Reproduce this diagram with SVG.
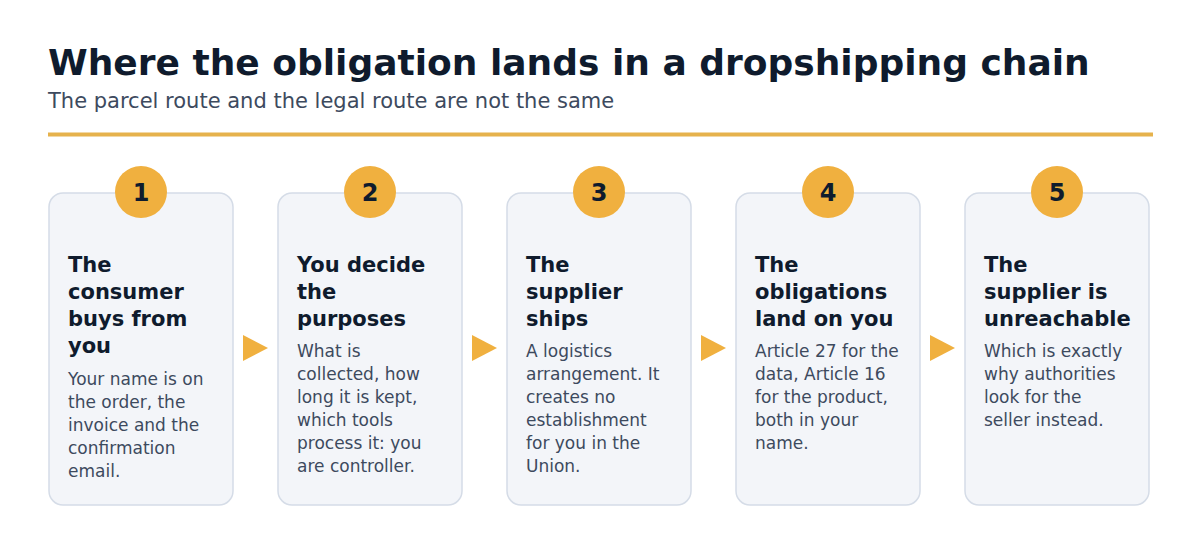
<svg xmlns="http://www.w3.org/2000/svg" width="1200" height="545" viewBox="0 0 1200 545">
<style>
.title{font-family:"DejaVu Sans",sans-serif;font-weight:bold;font-size:36px;fill:#0f1b2d}
.sub{font-family:"DejaVu Sans",sans-serif;font-size:21px;fill:#3d4a5e}
.card{fill:#f3f5f9;stroke:#d5dce7;stroke-width:1.5}
.badge{fill:#f0b03f}
.num{font-family:"DejaVu Sans",sans-serif;font-weight:bold;font-size:24px;fill:#0f1b2d;text-anchor:middle}
.head{font-family:"DejaVu Sans",sans-serif;font-weight:bold;font-size:21px;fill:#0f1b2d}
.body{font-family:"DejaVu Sans",sans-serif;font-size:17px;fill:#3d4a5e}
.arrow{fill:#f0b03f}
</style>
<rect width="1200" height="545" fill="#ffffff"/>
<text class="title" x="48" y="75">Where the obligation lands in a dropshipping chain</text>
<text class="sub" x="48" y="108">The parcel route and the legal route are not the same</text>
<rect x="48" y="132.5" width="1105" height="4" fill="#e6b24c"/>
<g id="connectors">
<polygon class="arrow" points="243,335 268,348 243,361"/>
<polygon class="arrow" points="472,335 497,348 472,361"/>
<polygon class="arrow" points="701,335 726,348 701,361"/>
<polygon class="arrow" points="930,335 955,348 930,361"/>
</g>
<g id="node1">
<rect class="card" x="49" y="193" width="184" height="312" rx="14"/>
<circle class="badge" cx="141" cy="192" r="26"/>
<text class="num" x="141" y="201">1</text>
<text class="head" x="68" y="272">The</text>
<text class="head" x="68" y="299">consumer</text>
<text class="head" x="68" y="326">buys from</text>
<text class="head" x="68" y="353">you</text>
<text class="body" x="68" y="385">Your name is on</text>
<text class="body" x="68" y="408">the order, the</text>
<text class="body" x="68" y="431">invoice and the</text>
<text class="body" x="68" y="454">confirmation</text>
<text class="body" x="68" y="477">email.</text>
</g>
<g id="node2">
<rect class="card" x="278" y="193" width="184" height="312" rx="14"/>
<circle class="badge" cx="370" cy="192" r="26"/>
<text class="num" x="370" y="201">2</text>
<text class="head" x="297" y="272">You decide</text>
<text class="head" x="297" y="299">the</text>
<text class="head" x="297" y="326">purposes</text>
<text class="body" x="297" y="357">What is</text>
<text class="body" x="297" y="380">collected, how</text>
<text class="body" x="297" y="403">long it is kept,</text>
<text class="body" x="297" y="426">which tools</text>
<text class="body" x="297" y="449">process it: you</text>
<text class="body" x="297" y="472">are controller.</text>
</g>
<g id="node3">
<rect class="card" x="507" y="193" width="184" height="312" rx="14"/>
<circle class="badge" cx="599" cy="192" r="26"/>
<text class="num" x="599" y="201">3</text>
<text class="head" x="526" y="272">The</text>
<text class="head" x="526" y="299">supplier</text>
<text class="head" x="526" y="326">ships</text>
<text class="body" x="526" y="357">A logistics</text>
<text class="body" x="526" y="380">arrangement. It</text>
<text class="body" x="526" y="403">creates no</text>
<text class="body" x="526" y="426">establishment</text>
<text class="body" x="526" y="449">for you in the</text>
<text class="body" x="526" y="472">Union.</text>
</g>
<g id="node4">
<rect class="card" x="736" y="193" width="184" height="312" rx="14"/>
<circle class="badge" cx="828" cy="192" r="26"/>
<text class="num" x="828" y="201">4</text>
<text class="head" x="755" y="272">The</text>
<text class="head" x="755" y="299">obligations</text>
<text class="head" x="755" y="326">land on you</text>
<text class="body" x="755" y="357">Article 27 for the</text>
<text class="body" x="755" y="380">data, Article 16</text>
<text class="body" x="755" y="403">for the product,</text>
<text class="body" x="755" y="426">both in your</text>
<text class="body" x="755" y="449">name.</text>
</g>
<g id="node5">
<rect class="card" x="965" y="193" width="184" height="312" rx="14"/>
<circle class="badge" cx="1057" cy="192" r="26"/>
<text class="num" x="1057" y="201">5</text>
<text class="head" x="984" y="272">The</text>
<text class="head" x="984" y="299">supplier is</text>
<text class="head" x="984" y="326">unreachable</text>
<text class="body" x="984" y="357">Which is exactly</text>
<text class="body" x="984" y="380">why authorities</text>
<text class="body" x="984" y="403">look for the</text>
<text class="body" x="984" y="426">seller instead.</text>
</g>
</svg>
